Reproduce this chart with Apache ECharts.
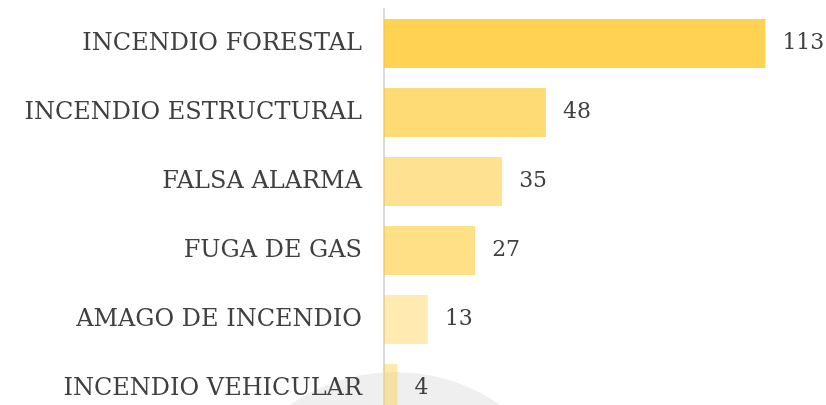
<!DOCTYPE html>
<html>
<head>
<meta charset="utf-8">
<script src="https://cdn.jsdelivr.net/npm/echarts@6/dist/echarts.min.js"></script>
<style>
  html, body { margin: 0; padding: 0; background: #fff; overflow: hidden; }
  /* la figura original esta recortada abajo: el grafico es mas alto que la ventana */
  #wrap { width: 826px; height: 405px; overflow: hidden; }
  #chart { width: 826px; height: 425px; }
</style>
</head>
<body>
<div id="wrap"><div id="chart"></div></div>
<script>
// categorias (de arriba a abajo)
const categories = [
  'INCENDIO FORESTAL',
  'INCENDIO ESTRUCTURAL',
  'FALSA ALARMA',
  'FUGA DE GAS',
  'AMAGO DE INCENDIO',
  'INCENDIO VEHICULAR'
]
const values = [113, 48, 35, 27, 13, 4]

// opacidad de cada barra sobre el mismo amarillo
const barAlpha = [0.8, 0.64, 0.51, 0.56, 0.36, 0.38]

const chart = echarts.init(document.getElementById('chart'))

const font = '"DejaVu Serif", serif'

chart.setOption({
  animation: false,
  grid: {
    left: 384,
    top: 9,
    height: 414,
    width: 405
  },
  // circulo gris decorativo al pie
  graphic: [{
    type: 'circle',
    z: -10,
    shape: { cx: 395, cy: 556, r: 184 },
    style: { fill: '#efefef' }
  }],
  xAxis: {
    type: 'value',
    min: 0,
    max: 120,
    show: false
  },
  yAxis: {
    type: 'category',
    inverse: true,
    data: categories,
    axisLine: { show: true, lineStyle: { color: '#d9d9d9', width: 2 } },
    axisTick: { show: false },
    axisLabel: {
      margin: 22,
      fontFamily: font,
      fontSize: 24,
      color: '#404040'
    }
  },
  series: [{
    type: 'bar',
    barWidth: 49,
    data: values.map((v, i) => ({
      value: v,
      itemStyle: { color: 'rgba(255,199,40,' + barAlpha[i] + ')' }
    })),
    label: {
      show: true,
      position: 'right',
      distance: 17,
      fontFamily: font,
      fontSize: 22,
      color: '#404040'
    }
  }]
})
</script>
</body>
</html>
